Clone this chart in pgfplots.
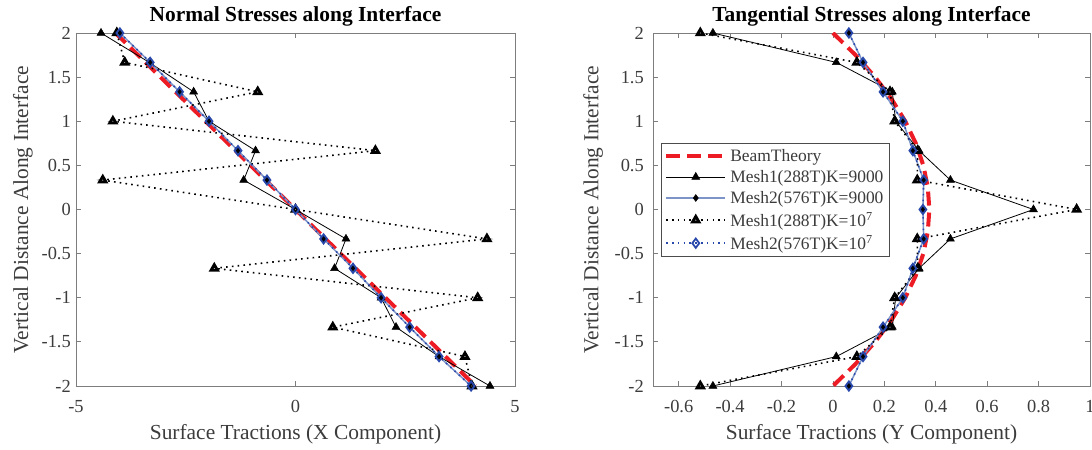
\documentclass[border=0pt]{standalone}
\usepackage{fontspec}
\setmainfont{Liberation Serif}
\usepackage{pgfplots}
\pgfplotsset{compat=1.18}

\definecolor{beamred}{RGB}{237,28,36}
\definecolor{lightblue}{RGB}{125,148,200}
\definecolor{darkblue}{RGB}{40,72,172}
\definecolor{axgray}{RGB}{125,125,125}
\definecolor{txtgray}{RGB}{60,60,60}

\pgfplotsset{
 common/.style={
  scale only axis, height=353bp,
  ymin=-2, ymax=2, ytick={-2,-1.5,-1,-0.5,0,0.5,1,1.5,2},
  tick align=inside, major tick length=5bp,
  axis line style={axgray, line width=0.8bp},
  every tick/.style={axgray, line width=0.8bp},
  tick label style={font=\fontsize{18.5}{20}\selectfont, text=txtgray},
  /pgf/number format/assume math mode=true,
  title style={font=\bfseries\fontsize{21.5}{24}\selectfont, at={(axis description cs:0.5,1)}, anchor=base, yshift=6bp, inner sep=0pt},
  xlabel style={font=\fontsize{21.5}{24}\selectfont, text=txtgray, at={(axis description cs:0.5,0)}, anchor=north, yshift=-38bp, inner sep=0pt},
  ylabel style={font=\fontsize{21.5}{24}\selectfont, text=txtgray, anchor=south, inner sep=0pt},
  xticklabel style={inner sep=0pt, yshift=-14bp},
  yticklabel style={inner sep=0pt, xshift=-5bp},
  legend image code/.code={\draw[mark repeat=2,mark phase=2,##1] plot coordinates {(0bp,0bp) (29.5bp,0bp) (59bp,0bp)};},
 },
 beam/.style={beamred, line width=4bp, dash pattern=on 14bp off 7bp, no markers},
 m1a/.style={black, line width=0.8bp, mark=triangle*, mark size=4.6bp, mark options={solid, fill=black, draw=black, line width=0.5bp}},
 m2a/.style={lightblue, line width=1.5bp, mark=diamond*, mark size=3.4bp, mark options={solid, fill=black, draw=black, line width=0.5bp}},
 m1b/.style={black, line width=1.6bp, dash pattern=on 1.6bp off 4.2bp, mark=triangle*, mark size=3.7bp, mark options={solid, fill=white, draw=black, line width=2.8bp}},
 m2b/.style={darkblue, line width=1.6bp, dash pattern=on 1.6bp off 4.2bp, mark=diamond, mark size=4.6bp, mark options={solid, draw=darkblue, line width=1.8bp}},
}

\begin{document}
\begin{tikzpicture}
\useasboundingbox (-76bp,-64bp) rectangle (1016bp,386bp);

% ---------------- Left: Normal stresses ----------------
\begin{axis}[common, width=439bp, at={(0bp,0bp)}, anchor=south west,
  xmin=-5, xmax=5, xtick={-5,0,5},
  title={Normal Stresses along Interface},
  xlabel={Surface Tractions (X Component)},
  ylabel={Vertical Distance Along Interface},
  ylabel style={at={(axis description cs:-0.098,0.5)}},
]
\addplot[beam] coordinates {(-4.1,2) (4.1,-2)};
\addplot[m1a] coordinates {
(-4.43,2) (-3.33,1.6667) (-2.32,1.3333) (-1.97,1) (-0.91,0.6667) (-1.18,0.3333) (0,0)
(1.15,-0.3333) (0.89,-0.6667) (1.95,-1) (2.29,-1.3333) (3.27,-1.6667) (4.43,-2)};
\addplot[m2a] coordinates {
(-4.0,2) (-3.31,1.6667) (-2.64,1.3333) (-1.97,1) (-1.31,0.6667) (-0.65,0.3333) (0,0)
(0.64,-0.3333) (1.31,-0.6667) (1.95,-1) (2.60,-1.3333) (3.27,-1.6667) (4.0,-2)};
\addplot[m1b] coordinates {
(-4.07,2) (-3.89,1.6667) (-0.86,1.3333) (-4.16,1) (1.82,0.6667) (-4.39,0.3333) (0,0)
(4.36,-0.3333) (-1.85,-0.6667) (4.15,-1) (0.85,-1.3333) (3.86,-1.6667) (4.02,-2)};
\addplot[m2b] coordinates {
(-4.0,2) (-3.31,1.6667) (-2.64,1.3333) (-1.97,1) (-1.31,0.6667) (-0.65,0.3333) (0,0)
(0.64,-0.3333) (1.31,-0.6667) (1.95,-1) (2.60,-1.3333) (3.27,-1.6667) (4.0,-2)};
\end{axis}

% ---------------- Right: Tangential stresses ----------------
\begin{axis}[common, width=437bp, at={(577bp,0bp)}, anchor=south west,
  xmin=-0.7, xmax=1, xtick={-0.6,-0.4,-0.2,0,0.2,0.4,0.6,0.8,1},
  title={Tangential Stresses along Interface},
  xlabel={Surface Tractions (Y Component)},
  ylabel={Vertical Distance Along Interface},
  ylabel style={at={(axis description cs:-0.114,0.5)}},
  yticklabel style={xshift=-4bp},
  legend cell align=left,
  legend style={at={(axis description cs:0.018,0.688)}, anchor=north west,
    draw=black!70, line width=0.8bp, fill=white, text=txtgray,
    font=\fontsize{17.5}{19}\selectfont, inner xsep=3bp, inner ysep=2bp,
    nodes={inner ysep=3.7bp, inner xsep=3bp}},
]
\addplot[beam] coordinates {
(0,2) (0.0879,1.75) (0.1641,1.5) (0.2285,1.25) (0.2813,1) (0.3223,0.75) (0.3516,0.5) (0.3691,0.25) (0.375,0)
(0.3691,-0.25) (0.3516,-0.5) (0.3223,-0.75) (0.2813,-1) (0.2285,-1.25) (0.1641,-1.5) (0.0879,-1.75) (0,-2)};
\addlegendentry{BeamTheory}
\addplot[m1a] coordinates {
(-0.467,2) (0.013,1.6667) (0.231,1.3333) (0.244,1) (0.335,0.6667) (0.457,0.3333) (0.78,0)
(0.457,-0.3333) (0.335,-0.6667) (0.244,-1) (0.231,-1.3333) (0.013,-1.6667) (-0.467,-2)};
\addlegendentry{Mesh1(288T)K=9000}
\addplot[m2a] coordinates {
(0.062,2) (0.117,1.6667) (0.195,1.3333) (0.272,1) (0.311,0.6667) (0.353,0.3333) (0.350,0)
(0.353,-0.3333) (0.311,-0.6667) (0.272,-1) (0.195,-1.3333) (0.117,-1.6667) (0.062,-2)};
\addlegendentry{Mesh2(576T)K=9000}
\addplot[m1b] coordinates {
(-0.516,2) (0.093,1.6667) (0.222,1.3333) (0.240,1) (0.330,0.6667) (0.328,0.3333) (0.948,0)
(0.328,-0.3333) (0.330,-0.6667) (0.240,-1) (0.222,-1.3333) (0.093,-1.6667) (-0.516,-2)};
\addlegendentry{Mesh1(288T)K=10\textsuperscript{7}}
\addplot[m2b] coordinates {
(0.062,2) (0.117,1.6667) (0.195,1.3333) (0.272,1) (0.311,0.6667) (0.353,0.3333) (0.350,0)
(0.353,-0.3333) (0.311,-0.6667) (0.272,-1) (0.195,-1.3333) (0.117,-1.6667) (0.062,-2)};
\addlegendentry{Mesh2(576T)K=10\textsuperscript{7}}
\end{axis}
\end{tikzpicture}
\end{document}
